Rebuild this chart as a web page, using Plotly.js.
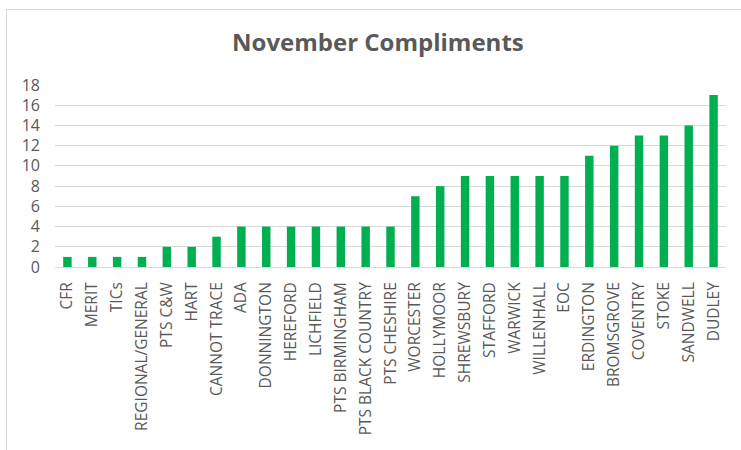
<!DOCTYPE html>
<html>
<head>
<meta charset="utf-8">
<script src="https://cdn.plot.ly/plotly-3.0.1.min.js"></script>
<style>
  html, body { margin: 0; padding: 0; background: #ffffff; }
  #chart { width: 741px; height: 450px; }
  #frame { position: absolute; left: 6px; top: 9px; width: 760px; height: 460px;
           border: 1px solid #d9d9d9; pointer-events: none; }
</style>
</head>
<body>
<div id="chart"></div>
<div id="frame"></div>
<script>
const categories = ["CFR", "MERIT", "TICs", "REGIONAL/GENERAL", "PTS C&W", "HART", "CANNOT TRACE",
  "ADA", "DONNINGTON", "HEREFORD", "LICHFIELD", "PTS BIRMINGHAM", "PTS BLACK COUNTRY",
  "PTS CHESHIRE", "WORCESTER", "HOLLYMOOR", "SHREWSBURY", "STAFFORD", "WARWICK",
  "WILLENHALL", "EOC", "ERDINGTON", "BROMSGROVE", "COVENTRY", "STOKE", "SANDWELL", "DUDLEY"];
const compliments = [1, 1, 1, 1, 2, 2, 3, 4, 4, 4, 4, 4, 4, 4, 7, 8, 9, 9, 9, 9, 9, 11, 12, 13, 13, 14, 17];
const yTicks = [0, 2, 4, 6, 8, 10, 12, 14, 16, 18];

const trace = {
  type: "bar",
  x: categories,
  y: compliments,
  marker: { color: "#00B050" },
  hoverinfo: "x+y"
};

const layout = {
  width: 741,
  height: 450,
  margin: { l: 55, r: 15, t: 85, b: 183 },
  paper_bgcolor: "#ffffff",
  plot_bgcolor: "#ffffff",
  font: { family: "Open Sans, sans-serif", color: "#595959", size: 14 },
  title: {
    text: "<b>November Compliments</b>",
    font: { family: "Open Sans, sans-serif", size: 24, color: "#595959" },
    x: 0.51, xanchor: "center",
    y: 0.905, yanchor: "middle"
  },
  bargap: 0.66,
  showlegend: false,
  xaxis: {
    type: "category",
    tickangle: -90,
    tickfont: { size: 15.5, color: "#595959" },
    showgrid: false,
    showline: true,
    linecolor: "#d9d9d9",
    linewidth: 1,
    ticks: "",
    ticklabelstandoff: 8,
    automargin: false
  },
  yaxis: {
    range: [0, 18],
    tickvals: yTicks,
    ticktext: yTicks.map(String),
    tickfont: { size: 16, color: "#595959" },
    showgrid: true,
    gridcolor: "#d9d9d9",
    gridwidth: 1,
    zeroline: true,
    zerolinecolor: "#d9d9d9",
    showline: false,
    ticks: "",
    ticklabelstandoff: 14,
    automargin: false
  }
};

Plotly.newPlot("chart", [trace], layout, { displayModeBar: false, staticPlot: true });
</script>
</body>
</html>
